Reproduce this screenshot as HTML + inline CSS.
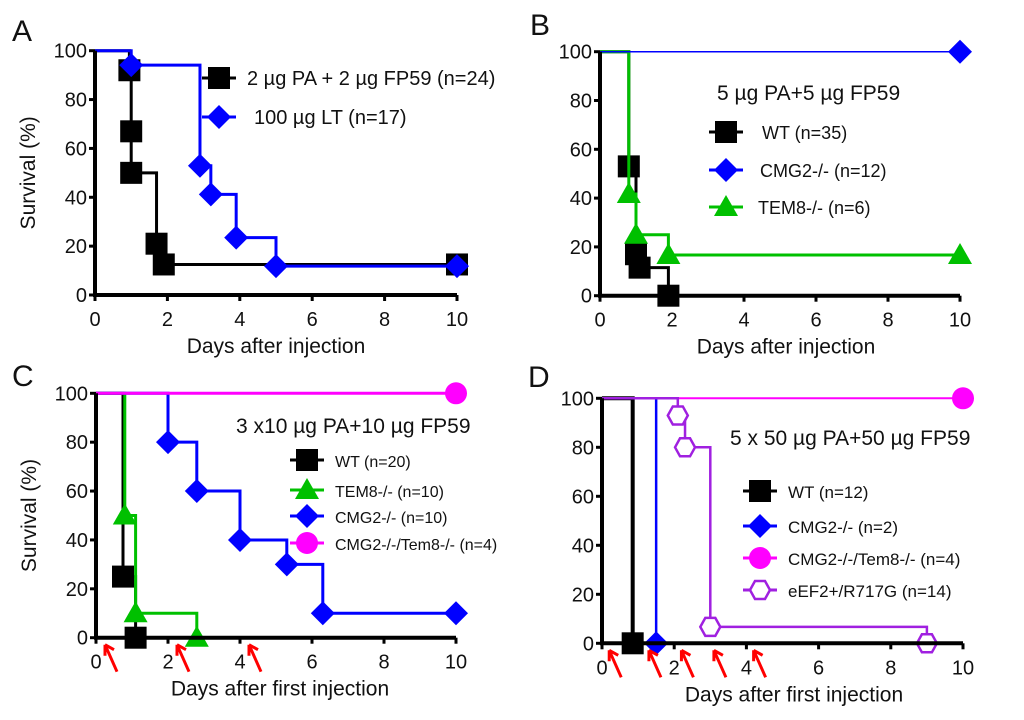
<!DOCTYPE html>
<html><head><meta charset="utf-8"><style>
body{margin:0;background:#fff;width:1024px;height:720px;overflow:hidden}
svg{display:block}
text{font-family:"Liberation Sans",sans-serif;fill:#111}
</style></head><body>
<svg id="chart" width="1024" height="720" viewBox="0 0 1024 720"></svg>
<script>
// ---- data ----
const xTicks=[0,2,4,6,8,10];
const yTicks=[0,20,40,60,80,100];
// Panel A
const aBlackT=[0.95,1.0,1.0,1.7,1.9,10];
const aBlackS=[92,67,50,21,12.5,12.5];
const aBlueT=[1.0,2.9,3.2,3.9,5.0,10];
const aBlueS=[94.1,52.9,41.2,23.5,11.8,11.8];
// Panel B
const bBlackT=[0.8,1.0,1.1,1.9];
const bBlackS=[53,17,11.5,0];
const bGreenT=[0.8,1.0,1.9,10];
const bGreenS=[41.7,25,16.7,16.7];
const bBlueT=[10];
const bBlueS=[100];
// Panel C
const cBlackT=[0.75,1.1];
const cBlackS=[25,0];
const cGreenT=[0.8,1.1,2.8];
const cGreenS=[50,10,0];
const cBlueT=[2,2.8,4,5.3,6.3,10];
const cBlueS=[80,60,40,30,10,10];
const cMagT=[10];
const cMagS=[100];
const cArrows=[0.25,2.25,4.25];
// Panel D
const dBlackT=[0.85];
const dBlackS=[0];
const dBlueT=[1.5];
const dBlueS=[0];
const dMagT=[10];
const dMagS=[100];
const dPurT=[2.1,2.3,3.0,9.0];
const dPurS=[93,80,6.7,0];
const dArrows=[0.2,1.3,2.2,3.1,4.2];

const NS="http://www.w3.org/2000/svg";
const svg=document.getElementById('chart');
function el(tag,attrs,parent,txt){const e=document.createElementNS(NS,tag);for(const k in attrs)e.setAttribute(k,attrs[k]);if(txt!==undefined)e.textContent=txt;(parent||svg).appendChild(e);return e;}

function marker(g,shape,x,y,color){
  let m;
  if(shape==='square') m=el('rect',{x:x-11,y:y-11,width:22,height:22,fill:color},g);
  else if(shape==='diamond') m=el('polygon',{points:`${x},${y-12} ${x+12},${y} ${x},${y+12} ${x-12},${y}`,fill:color},g);
  else if(shape==='triangle') m=el('polygon',{points:`${x},${y-12} ${x+12},${y+9} ${x-12},${y+9}`,fill:color},g);
  else if(shape==='circle') m=el('circle',{cx:x,cy:y,r:11,fill:color},g);
  else if(shape==='hex') m=el('polygon',{points:`${x-10},${y} ${x-5},${y-9} ${x+5},${y-9} ${x+10},${y} ${x+5},${y+9} ${x-5},${y+9}`,fill:'#fff',stroke:color,'stroke-width':2.5},g);
  
  
}

function panel(p){
  const g=el('g',{});
  
  
  const X=v=>p.x0+(p.x1-p.x0)*v/10, Y=v=>p.y0+(p.y1-p.y0)*v/100;
  const lt=el('text',{x:p.lx,y:p.ly,'font-size':30},g,p.letter);
  
  
  p.series.forEach(s=>{
    let d=`M${X(0)},${Y(100)}`;
    s.t.forEach((t,i)=>{d+=` H${X(t)} V${Y(s.s[i])}`;});
    const path=el('path',{d:d,fill:'none',stroke:s.color,'stroke-width':s.w||3},g);
    
    
    s.t.forEach((t,i)=>marker(g,s.shape,X(t),Y(s.s[i]),s.color));
  });
  const ax=el('path',{d:`M${X(0)},${Y(100)} V${Y(0)} H${X(10)}`,fill:'none',stroke:'#000','stroke-width':4},g);
  
  
  xTicks.forEach(v=>{
    el('line',{x1:X(v),x2:X(v),y1:Y(0),y2:Y(0)+6,stroke:'#000','stroke-width':3},g);
    const t=el('text',{x:X(v),y:Y(0)+31,'font-size':20,'text-anchor':'middle'},g,v);
    
    
  });
  yTicks.forEach(v=>{
    el('line',{x1:X(0)-6,x2:X(0),y1:Y(v),y2:Y(v),stroke:'#000','stroke-width':3},g);
    const t=el('text',{x:X(0)-8,y:Y(v)+7,'font-size':20,'text-anchor':'end'},g,v);
    
    
  });
  const xt=el('text',{x:p.xtx,y:Y(0)+58,'font-size':21,'text-anchor':'middle'},g,p.xtitle);
  
  
  if(p.ytitle){
    const yt=el('text',{x:0,y:0,'font-size':21,'text-anchor':'middle',transform:`translate(${p.x0-60},${(p.y0+p.y1)/2}) rotate(-90)`},g,p.ytitle);
    
    
  }
  if(p.title){
    const tt=el('text',{x:p.title.x,y:p.title.y,'font-size':21},g,p.title.text);
    
    
  }
  p.legend.forEach(L=>{
    const lg=el('g',{},g);
    
    
    el('line',{x1:L.mx-17,x2:L.mx+17,y1:L.y,y2:L.y,stroke:L.color,'stroke-width':3},lg);
    marker(lg,L.shape,L.mx,L.y,L.color);
    el('text',{x:L.tx,y:L.y+7,'font-size':L.fs||17},lg,L.text);
  });
  (p.arrows||[]).forEach(a=>{
    const ar=el('path',{d:`M${X(a)+12},${Y(0)+34} L${X(a)},${Y(0)+7} M${X(a)},${Y(0)+7} l0,11 M${X(a)},${Y(0)+7} l9,5`,stroke:'#f00','stroke-width':3,fill:'none'},g);
    
    
  });
}

panel({letter:'A',lx:12,ly:41,x0:95,x1:457,y0:295,y1:50.7,xtx:276,xtitle:'Days after injection',ytitle:'Survival (%)',
 series:[{name:'pa-fp59',t:aBlackT,s:aBlackS,color:'#000',shape:'square'},{name:'lt',t:aBlueT,s:aBlueS,color:'#0000ff',shape:'diamond'}],
 legend:[{mx:219,y:78,color:'#000',shape:'square',tx:247,text:'2 µg PA + 2 µg FP59 (n=24)',fs:20},{mx:219,y:117,color:'#0000ff',shape:'diamond',tx:254,text:'100 µg LT (n=17)',fs:20}]});
panel({letter:'B',lx:530,ly:35,x0:600,x1:960,y0:295.7,y1:51.7,xtx:786,xtitle:'Days after injection',
 title:{x:717,y:100,text:'5 µg PA+5 µg FP59'},
 series:[{name:'wt',t:bBlackT,s:bBlackS,color:'#000',shape:'square'},{name:'tem8',t:bGreenT,s:bGreenS,color:'#00c000',shape:'triangle'},{name:'cmg2',t:bBlueT,s:bBlueS,color:'#0000ff',shape:'diamond',w:1.5}],
 legend:[{mx:726,y:132,color:'#000',shape:'square',tx:762,text:'WT (n=35)',fs:18},{mx:726,y:170,color:'#0000ff',shape:'diamond',tx:760,text:'CMG2-/- (n=12)',fs:18},{mx:726,y:207,color:'#00c000',shape:'triangle',tx:758,text:'TEM8-/- (n=6)',fs:18}]});
panel({letter:'C',lx:12,ly:386,x0:96,x1:456,y0:637.7,y1:393.3,xtx:280,xtitle:'Days after first injection',ytitle:'Survival (%)',
 title:{x:236,y:433,text:'3 x10 µg PA+10 µg FP59'},arrows:cArrows,
 series:[{name:'wt',t:cBlackT,s:cBlackS,color:'#000',shape:'square'},{name:'tem8',t:cGreenT,s:cGreenS,color:'#00c000',shape:'triangle'},{name:'cmg2',t:cBlueT,s:cBlueS,color:'#0000ff',shape:'diamond'},{name:'cmg2-tem8',t:cMagT,s:cMagS,color:'#ff00ff',shape:'circle'}],
 legend:[{mx:307,y:460,color:'#000',shape:'square',tx:335,text:'WT (n=20)',fs:16},{mx:307,y:490,color:'#00c000',shape:'triangle',tx:335,text:'TEM8-/- (n=10)',fs:16},{mx:307,y:516,color:'#0000ff',shape:'diamond',tx:335,text:'CMG2-/- (n=10)',fs:16},{mx:307,y:543,color:'#ff00ff',shape:'circle',tx:335,text:'CMG2-/-/Tem8-/- (n=4)',fs:16}]});
panel({letter:'D',lx:528,ly:387,x0:602,x1:963,y0:643.3,y1:398.3,xtx:794,xtitle:'Days after  first injection',
 title:{x:730,y:445,text:'5 x 50 µg PA+50 µg FP59'},arrows:dArrows,
 series:[{name:'wt',t:dBlackT,s:dBlackS,color:'#000',shape:'square',w:4},{name:'cmg2',t:dBlueT,s:dBlueS,color:'#0000ff',shape:'diamond',w:2.5},{name:'cmg2-tem8',t:dMagT,s:dMagS,color:'#ff00ff',shape:'circle',w:2},{name:'eef2',t:dPurT,s:dPurS,color:'#a020e0',shape:'hex',w:2.5}],
 legend:[{mx:760,y:491,color:'#000',shape:'square',tx:788,text:'WT (n=12)'},{mx:760,y:526,color:'#0000ff',shape:'diamond',tx:788,text:'CMG2-/- (n=2)'},{mx:760,y:558,color:'#ff00ff',shape:'circle',tx:788,text:'CMG2-/-/Tem8-/- (n=4)'},{mx:760,y:590,color:'#a020e0',shape:'hex',tx:788,text:'eEF2+/R717G (n=14)'}]});
</script>
</body></html>
